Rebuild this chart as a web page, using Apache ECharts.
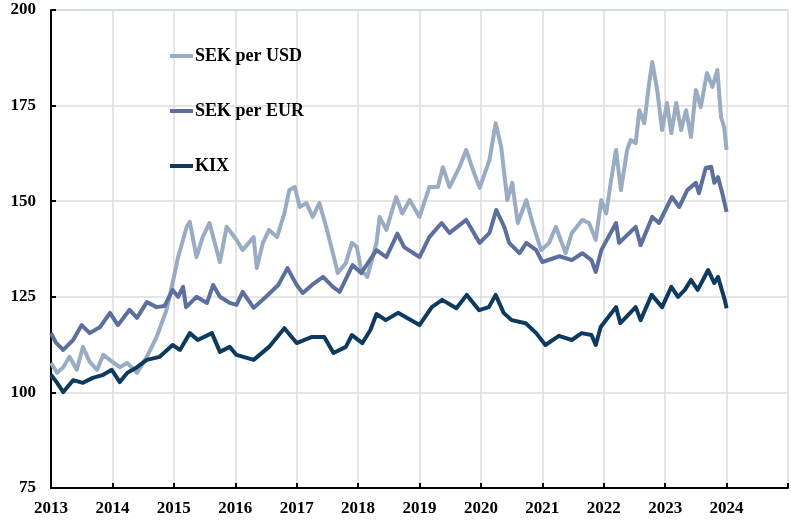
<!DOCTYPE html>
<html>
<head>
<meta charset="utf-8">
<script src="https://cdn.jsdelivr.net/npm/echarts@6/dist/echarts.min.js"></script>
<style>
  html, body { margin: 0; padding: 0; background: #fff; }
  #chart { width: 791px; height: 523px; }
</style>
</head>
<body>
<div id="chart"></div>
<script>
// SEK per USD
const usdDates = [2013.00, 2013.10, 2013.20, 2013.30, 2013.42, 2013.52, 2013.63, 2013.75, 2013.85, 2014.00,
  2014.12, 2014.24, 2014.40, 2014.56, 2014.72, 2014.88, 2014.98, 2015.07, 2015.21, 2015.26,
  2015.37, 2015.47, 2015.58, 2015.75, 2015.86, 2016.02, 2016.12, 2016.30, 2016.35, 2016.45,
  2016.55, 2016.68, 2016.80, 2016.88, 2016.97, 2017.05, 2017.16, 2017.26, 2017.37, 2017.48,
  2017.59, 2017.67, 2017.80, 2017.90, 2017.98, 2018.05, 2018.15, 2018.30, 2018.35, 2018.46,
  2018.62, 2018.72, 2018.84, 2019.00, 2019.16, 2019.30, 2019.38, 2019.49, 2019.65, 2019.76,
  2019.87, 2019.98, 2020.14, 2020.24, 2020.33, 2020.43, 2020.51, 2020.60, 2020.74, 2020.84,
  2020.98, 2021.11, 2021.22, 2021.38, 2021.48, 2021.65, 2021.76, 2021.87, 2021.96, 2022.04,
  2022.12, 2022.20, 2022.28, 2022.38, 2022.44, 2022.52, 2022.58, 2022.66, 2022.74, 2022.79,
  2022.87, 2022.95, 2023.03, 2023.10, 2023.18, 2023.26, 2023.34, 2023.42, 2023.50, 2023.58,
  2023.68, 2023.77, 2023.85, 2023.91, 2023.96, 2024.00];
const usdValues = [107.7, 105.1, 106.6, 109.3, 105.9, 111.9, 108.0, 105.9, 109.8, 108.0,
  106.6, 107.7, 105.1, 109.3, 114.5, 121.5, 128.6, 135.4, 143.3, 144.6,
  135.4, 140.6, 144.3, 134.1, 143.3, 139.9, 137.2, 140.6, 132.5, 139.1,
  142.5, 140.6, 146.8, 152.9, 153.7, 148.5, 149.5, 145.9, 149.5, 143.3,
  136.4, 131.2, 133.8, 139.1, 138.0, 132.0, 130.2, 139.1, 145.9, 142.5,
  151.1, 146.8, 150.3, 145.9, 153.7, 153.7, 158.9, 153.7, 158.9, 163.4,
  158.2, 153.5, 160.8, 170.4, 164.2, 150.3, 154.8, 144.3, 150.3, 144.3,
  137.2, 139.1, 143.3, 136.4, 141.7, 145.1, 144.3, 139.9, 150.3, 146.8,
  155.5, 163.4, 152.9, 163.4, 166.0, 165.2, 173.8, 170.4, 180.9, 186.4,
  179.1, 168.6, 175.7, 167.8, 175.7, 168.6, 173.8, 166.8, 179.1, 174.6,
  183.5, 179.9, 184.3, 172.0, 169.4, 163.4];

// SEK per EUR
const eurDates = [2013.00, 2013.08, 2013.20, 2013.36, 2013.50, 2013.63, 2013.80, 2013.96, 2014.09, 2014.28,
  2014.40, 2014.56, 2014.72, 2014.85, 2014.98, 2015.07, 2015.15, 2015.20, 2015.37, 2015.54,
  2015.64, 2015.75, 2015.91, 2016.02, 2016.12, 2016.30, 2016.50, 2016.70, 2016.85, 2017.00,
  2017.10, 2017.25, 2017.43, 2017.59, 2017.70, 2017.91, 2018.05, 2018.30, 2018.46, 2018.64,
  2018.75, 2019.00, 2019.16, 2019.36, 2019.49, 2019.76, 2019.98, 2020.14, 2020.25, 2020.38,
  2020.46, 2020.63, 2020.74, 2020.90, 2021.00, 2021.28, 2021.48, 2021.65, 2021.80, 2021.87,
  2021.96, 2022.20, 2022.25, 2022.52, 2022.60, 2022.79, 2022.90, 2023.11, 2023.23, 2023.36,
  2023.50, 2023.55, 2023.66, 2023.75, 2023.80, 2023.86, 2023.93, 2024.00];
const eurValues = [115.5, 113.0, 111.1, 113.7, 117.6, 115.5, 117.1, 120.8, 117.6, 121.6,
  119.5, 123.6, 122.3, 122.6, 126.8, 125.0, 127.6, 122.3, 125.0, 123.4,
  128.1, 125.0, 123.4, 122.9, 126.3, 122.1, 125.0, 128.1, 132.5, 128.1,
  126.0, 128.1, 130.2, 127.6, 126.3, 133.3, 131.2, 137.2, 135.4, 141.5,
  138.0, 135.4, 140.6, 144.3, 141.7, 145.1, 139.1, 141.7, 147.7, 143.3,
  139.1, 136.4, 139.1, 137.2, 134.1, 135.6, 134.6, 136.4, 134.6, 131.5,
  137.2, 144.3, 139.1, 143.3, 138.5, 145.9, 144.3, 151.1, 148.5, 152.9,
  154.8, 152.1, 158.7, 159.0, 154.8, 156.3, 152.1, 147.2];

// KIX
const kixDates = [2013.00, 2013.10, 2013.20, 2013.36, 2013.52, 2013.68, 2013.85, 2013.99, 2014.12, 2014.24,
  2014.40, 2014.56, 2014.77, 2014.98, 2015.10, 2015.26, 2015.39, 2015.62, 2015.75, 2015.91,
  2016.02, 2016.30, 2016.55, 2016.80, 2017.00, 2017.25, 2017.45, 2017.60, 2017.80, 2017.90,
  2018.07, 2018.20, 2018.30, 2018.45, 2018.65, 2019.00, 2019.20, 2019.37, 2019.60, 2019.77,
  2019.97, 2020.13, 2020.24, 2020.37, 2020.50, 2020.73, 2020.90, 2021.05, 2021.27, 2021.48,
  2021.64, 2021.80, 2021.87, 2021.95, 2022.20, 2022.27, 2022.52, 2022.60, 2022.78, 2022.95,
  2023.10, 2023.21, 2023.32, 2023.42, 2023.53, 2023.70, 2023.80, 2023.86, 2023.97, 2024.00];
const kixValues = [104.6, 102.5, 100.1, 103.2, 102.5, 103.8, 104.6, 105.9, 102.7, 105.1,
  106.6, 108.5, 109.3, 112.4, 111.1, 115.5, 113.7, 115.5, 110.6, 111.9,
  109.8, 108.5, 111.9, 116.8, 112.9, 114.5, 114.5, 110.3, 111.9, 115.0,
  112.9, 116.3, 120.5, 118.9, 120.8, 117.6, 122.3, 124.2, 122.0, 125.5,
  121.5, 122.3, 125.5, 120.8, 118.9, 118.1, 115.5, 112.4, 114.8, 113.7,
  115.5, 115.0, 112.4, 117.1, 122.3, 118.1, 122.3, 118.9, 125.5, 122.3,
  127.6, 125.0, 126.8, 129.4, 126.8, 132.0, 128.6, 130.2, 124.2, 122.0];

const seriesNames = ['SEK per USD', 'SEK per EUR', 'KIX'];
const seriesColors = ['#9aabc4', '#5c6f9d', '#0d3a5e'];

const pairs = (xs, ys) => xs.map((x, i) => [x, ys[i]]);

const chart = echarts.init(document.getElementById('chart'));
const font = '"Liberation Serif", "Times New Roman", serif';

const option = {
  animation: false,
  backgroundColor: '#fff',
  grid: { left: 51, right: 1, top: 10, bottom: 35 },
  legend: {
    orient: 'vertical',
    left: 170,
    top: 47,
    padding: 0,
    itemGap: 37,
    itemWidth: 23,
    itemHeight: 4,
    icon: 'rect',
    textStyle: { fontFamily: font, fontWeight: 'bold', fontSize: 18, color: '#000', padding: [0, 0, 0, -3] },
    data: seriesNames
  },
  xAxis: {
    type: 'value',
    min: 2013,
    max: 2025,
    interval: 1,
    axisLine: { lineStyle: { color: '#000', width: 2 } },
    axisTick: { inside: true, length: 5, lineStyle: { color: '#000', width: 2 } },
    axisLabel: {
      margin: 12,
      fontFamily: font, fontWeight: 'bold', fontSize: 17, color: '#000',
      formatter: v => (v >= 2025 ? '' : String(v))
    },
    splitLine: { show: true, lineStyle: { color: '#dddddd', width: 1.5 } }
  },
  yAxis: {
    type: 'value',
    min: 75,
    max: 200,
    interval: 25,
    axisLine: { show: true, lineStyle: { color: '#000', width: 2 } },
    axisTick: { show: true, inside: true, length: 5, lineStyle: { color: '#000', width: 2 } },
    axisLabel: { margin: 15, fontFamily: font, fontWeight: 'bold', fontSize: 17, color: '#000' },
    splitLine: {
      show: true,
      lineStyle: { color: ['#dddddd', '#dddddd', '#dddddd', '#dddddd', '#dddddd', '#c3cfe2'], width: 1.5 }
    }
  },
  series: [
    { name: seriesNames[0], data: pairs(usdDates, usdValues) },
    { name: seriesNames[1], data: pairs(eurDates, eurValues) },
    { name: seriesNames[2], data: pairs(kixDates, kixValues) }
  ].map((s, i) => ({
    ...s,
    type: 'line',
    showSymbol: false,
    color: seriesColors[i],
    lineStyle: { width: 4, color: seriesColors[i], join: 'round' }
  }))
};

chart.setOption(option);
</script>
</body>
</html>
